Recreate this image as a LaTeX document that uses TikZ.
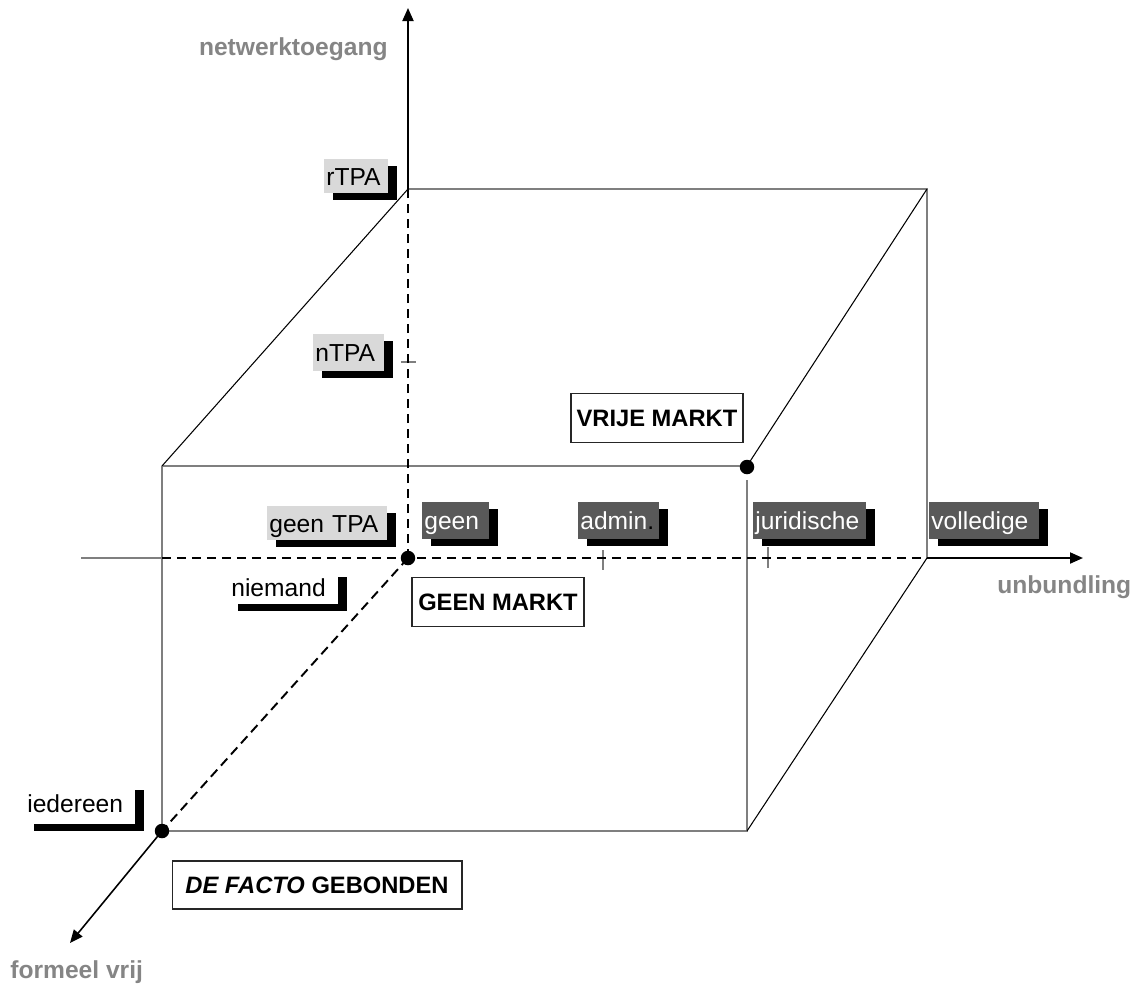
\documentclass[tikz,border=0pt]{standalone}
\usepackage{fontspec}
\setmainfont{Liberation Sans}
\usetikzlibrary{arrows.meta,shadows}
\definecolor{lightbox}{HTML}{D9D9D9}
\definecolor{darkbox}{HTML}{595959}
\definecolor{axislab}{HTML}{858585}
\definecolor{edgegray}{HTML}{7F7F7F}
\begin{document}
\begin{tikzpicture}[x=0.02cm,y=-0.02cm,
  edge/.style={draw=edgegray, line width=0.7pt},
  diag/.style={draw=black, line width=0.6pt},
  axis/.style={draw=black, line width=1.1pt},
  dashax/.style={draw=black, line width=1.35pt, dash pattern=on 0.19cm off 0.11cm},
  arr/.style={-{Triangle[length=0.26cm,width=0.22cm]}},
  dot/.style={circle, fill=black, inner sep=0pt, minimum size=0.29cm},
  shad/.style={drop shadow={shadow xshift=0.18cm, shadow yshift=-0.14cm, fill=black, opacity=1}},
  lab/.style={shad, anchor=north west, inner xsep=0.04cm, inner ysep=0pt, align=left, text height=10pt, text depth=0pt, font=\fontsize{14}{16}\selectfont},
  lightlab/.style={lab, fill=lightbox, text=black},
  darklab/.style={lab, fill=darkbox, text=white},
  whitelab/.style={lab, fill=white, text=black},
  market/.style={draw=black!85, line width=0.6pt, fill=white, font=\fontsize{13.5}{16}\selectfont\bfseries, inner sep=0pt, text height=9.7pt, text depth=0pt},
  axlab/.style={text=axislab, font=\fontsize{14}{16}\selectfont\bfseries, inner sep=0pt}
]
\useasboundingbox (0,0) rectangle (1134,985);
% geometry
\coordinate (O) at (408,558);
\coordinate (btl) at (408,189);
\coordinate (btr) at (927,189);
\coordinate (bbr) at (927,558);
\coordinate (ftl) at (162,466);
\coordinate (ftr) at (747,466);
\coordinate (ftrlow) at (747,480);
\coordinate (fbl) at (162,831);
\coordinate (fbr) at (747,831);
\coordinate (ytip) at (408,8);
\coordinate (xleft) at (81,558);
\coordinate (xl2) at (162,558);
\coordinate (xtip) at (1083,558);
\coordinate (ztip) at (70,943);
\coordinate (tn1) at (401,362);
\coordinate (tn2) at (416,362);
\coordinate (ta1) at (603,550);
\coordinate (ta2) at (603,570);
\coordinate (tj1) at (768,547);
\coordinate (tj2) at (768,568);
% cube edges
\draw[edge] (xleft) -- (xl2);
\draw[edge] (ftl) -- (ftr);
\draw[edge] (ftl) -- (fbl) -- (fbr) -- (ftrlow);
\draw[edge] (btl) -- (btr) -- (bbr);
\draw[diag] (ftl) -- (btl);
\draw[diag] (ftr) -- (btr);
\draw[diag] (fbr) -- (bbr);
% ticks
\draw[edge] (tn1) -- (tn2);
\draw[edge] (ta1) -- (ta2);
\draw[edge] (tj1) -- (tj2);
% axes
\draw[dashax] (xl2) -- (bbr);
\draw[dashax] (O) -- (btl);
\draw[dashax, line width=1.1pt] (O) -- (fbl);
\draw[axis, arr] (btl) -- (ytip);
\draw[axis, arr] (bbr) -- (xtip);
\draw[axis, arr, line width=0.9pt] (fbl) -- (ztip);
% dots
\node[dot] (Odot) at (O) {};
\node[dot] (Fdot) at (747,467) {};
\node[dot] (Idot) at (fbl) {};
% axis labels
\node[axlab, anchor=base east] (ylab) at (388,55) {netwerktoegang};
\node[axlab, anchor=base west] (xlab) at (997,593) {unbundling};
\node[axlab, anchor=base west] (zlab) at (10,978) {formeel vrij};
% value labels
\node[lightlab, text width=1.2cm, minimum height=0.68cm] (rtpa) at (324,159) {rTPA};
\node[lightlab, text width=1.34cm, minimum height=0.74cm] (ntpa) at (313,334) {nTPA};
\node[lightlab, text width=2.32cm, minimum height=0.68cm] (gtpa) at (267,506) {geen TPA};
\node[darklab, text width=1.26cm, minimum height=0.74cm] (ugeen) at (422,502) {geen};
\node[darklab, text width=1.54cm, minimum height=0.74cm] (uadmin) at (578,502) {admin\textcolor{black}{.}};
\node[darklab, text width=2.18cm, minimum height=0.74cm] (ujur) at (753,502) {juridische};
\node[darklab, text width=2.12cm, minimum height=0.74cm] (uvol) at (929,502) {volledige};
\node[whitelab, text width=2.1cm, minimum height=0.68cm] (niem) at (229,570) {niemand};
\node[whitelab, text width=2.12cm, minimum height=0.82cm] (ieder) at (25,783) {iedereen};
% market boxes
\node[market, minimum width=3.44cm, minimum height=0.98cm] (vrij) at (657,418) {VRIJE MARKT};
\node[market, minimum width=3.44cm, minimum height=0.98cm] (geenm) at (498,602) {GEEN MARKT};
\node[market, minimum width=5.8cm, minimum height=0.96cm] (facto) at (317,885) {\textit{DE FACTO} GEBONDEN};
\end{tikzpicture}
\end{document}
